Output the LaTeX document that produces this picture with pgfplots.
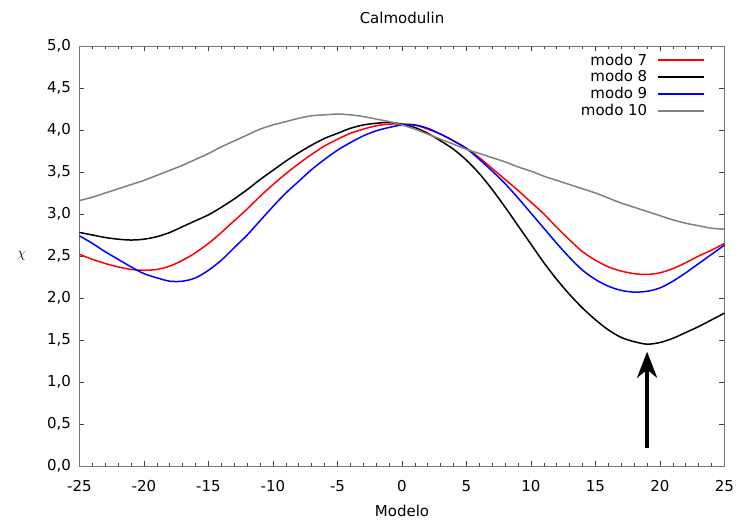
\documentclass[border=0pt]{standalone}
\usepackage{fontspec}
\setmainfont{DejaVu Sans}
\usepackage{pgfplots}
\pgfplotsset{compat=1.18}
\usetikzlibrary{arrows.meta}

\pgfplotstableread{
x y
-25 2.52
-24 2.46
-23 2.41
-22 2.37
-21 2.34
-20 2.33
-19 2.34
-18 2.38
-17 2.45
-16 2.54
-15 2.65
-14 2.78
-13 2.92
-12 3.06
-11 3.21
-10 3.35
-9 3.48
-8 3.60
-7 3.71
-6 3.81
-5 3.89
-4 3.96
-3 4.01
-2 4.05
-1 4.07
0 4.07
1 4.06
2 4.01
3 3.95
4 3.87
5 3.78
6 3.67
7 3.54
8 3.41
9 3.28
10 3.14
11 3.00
12 2.84
13 2.69
14 2.55
15 2.45
16 2.37
17 2.32
18 2.29
19 2.28
20 2.30
21 2.35
22 2.42
23 2.50
24 2.57
25 2.65
}\modoseven

\pgfplotstableread{
x y
-25 2.78
-24 2.75
-23 2.72
-22 2.70
-21 2.69
-20 2.70
-19 2.73
-18 2.78
-17 2.85
-16 2.92
-15 2.99
-14 3.08
-13 3.18
-12 3.29
-11 3.41
-10 3.52
-9 3.63
-8 3.73
-7 3.82
-6 3.90
-5 3.96
-4 4.02
-3 4.06
-2 4.08
-1 4.09
0 4.07
1 4.03
2 3.96
3 3.87
4 3.77
5 3.64
6 3.48
7 3.29
8 3.08
9 2.86
10 2.64
11 2.42
12 2.22
13 2.04
14 1.88
15 1.74
16 1.62
17 1.53
18 1.48
19 1.45
20 1.47
21 1.52
22 1.59
23 1.66
24 1.74
25 1.82
}\modoeight

\pgfplotstableread{
x y
-25 2.74
-24 2.65
-23 2.55
-22 2.46
-21 2.37
-20 2.29
-19 2.24
-18 2.20
-17 2.20
-16 2.24
-15 2.33
-14 2.45
-13 2.60
-12 2.75
-11 2.92
-10 3.09
-9 3.25
-8 3.39
-7 3.53
-6 3.65
-5 3.76
-4 3.85
-3 3.93
-2 3.99
-1 4.03
0 4.06
1 4.06
2 4.02
3 3.95
4 3.87
5 3.78
6 3.65
7 3.51
8 3.36
9 3.19
10 3.01
11 2.83
12 2.65
13 2.48
14 2.33
15 2.22
16 2.14
17 2.09
18 2.07
19 2.08
20 2.12
21 2.20
22 2.30
23 2.41
24 2.52
25 2.63
}\modonine

\pgfplotstableread{
x y
-25 3.16
-24 3.20
-23 3.25
-22 3.30
-21 3.35
-20 3.40
-19 3.46
-18 3.52
-17 3.58
-16 3.65
-15 3.72
-14 3.80
-13 3.87
-12 3.94
-11 4.01
-10 4.06
-9 4.10
-8 4.14
-7 4.17
-6 4.18
-5 4.19
-4 4.18
-3 4.16
-2 4.13
-1 4.10
0 4.06
1 4.01
2 3.95
3 3.89
4 3.83
5 3.77
6 3.72
7 3.67
8 3.62
9 3.56
10 3.51
11 3.45
12 3.40
13 3.35
14 3.30
15 3.25
16 3.19
17 3.13
18 3.08
19 3.03
20 2.98
21 2.93
22 2.89
23 2.86
24 2.83
25 2.82
}\modoten

\begin{document}
\begin{tikzpicture}[font=\fontsize{15}{17}\selectfont]
\begin{axis}[
  width=645pt, height=420pt, scale only axis,
  xmin=-25, xmax=25, ymin=0, ymax=5,
  xtick={-25,-20,-15,-10,-5,0,5,10,15,20,25},
  ytick={0,0.5,1,1.5,2,2.5,3,3.5,4,4.5,5},
  minor x tick num=4,
  tick align=inside,
  major tick length=5pt, minor tick length=3pt,
  axis line style={black!55, line width=0.9pt},
  every tick/.style={black!75, line width=0.6pt},
  tick label style={font=\fontsize{15}{17}\selectfont},
  /pgf/number format/assume math mode=true,
  yticklabel style={xshift=-5pt, /pgf/number format/.cd, fixed, fixed zerofill, precision=1, use comma},
  xticklabel style={yshift=-11pt, /pgf/number format/.cd, fixed, precision=0},
  clip=false,
  legend plot pos=right,
  legend cell align=right,
  legend image code/.code={\path[draw=none, fill=none] (0pt,0pt) -- (9pt,0pt); \fill[#1, draw=none] (9pt,-1pt) rectangle (55pt,1pt);},
  legend style={draw=none, fill=none, at={(rel axis cs:1,1)}, anchor=north east,
    xshift=-20pt, yshift=-5.5pt, row sep=0pt, inner sep=0pt,
    font=\fontsize{15}{17}\selectfont},
]
\addplot[red, line width=1.5pt, smooth] table[x=x,y=y] {\modoseven};
\addlegendentry{modo 7}
\addplot[black, line width=1.5pt, smooth] table[x=x,y=y] {\modoeight};
\addlegendentry{modo 8}
\addplot[blue, line width=1.5pt, smooth] table[x=x,y=y] {\modonine};
\addlegendentry{modo 9}
\addplot[black!50, line width=1.5pt, smooth] table[x=x,y=y] {\modoten};
\addlegendentry{modo 10}
\draw[line width=3.5pt, -{Stealth[length=26pt, width=20pt, inset=8pt]}] (axis cs:19,0.22) -- (axis cs:19,1.36);
\node at (rel axis cs:0.5,1) [yshift=28pt] {Calmodulin};
\node at (rel axis cs:0.5,0) [yshift=-45pt] {Modelo};
\node at (rel axis cs:0,0.5) [xshift=-58pt] {$\chi$};
\end{axis}
\path (current axis.south west) ++(-79.5pt,-55pt) rectangle ++(740pt,521pt);
\end{tikzpicture}
\end{document}
